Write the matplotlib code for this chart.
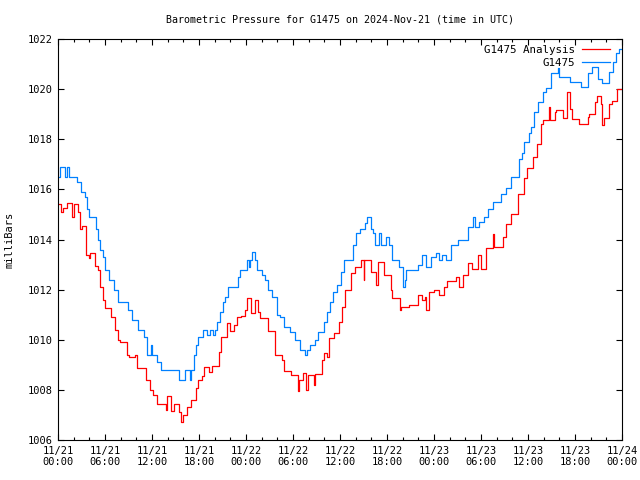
import numpy as np
import matplotlib
matplotlib.use("Agg")
import matplotlib.pyplot as plt
from matplotlib.ticker import MultipleLocator

# hours since 2024-11-21 00:00 UTC, pressure in mbar (step data)
g1475_hours = [0.0, 0.3, 0.95, 1.1, 1.4, 2.4, 2.9, 3.4, 3.7, 3.9, 4.8, 5.1, 5.4, 5.7,
               6.0, 6.5, 7.2, 7.6, 8.9, 9.5, 10.2, 11.0, 11.4, 11.9, 12.0, 12.7, 13.1,
               15.5, 16.2, 16.9, 17.0, 17.3, 17.6, 17.9, 18.5, 19.0, 19.4, 19.8, 20.1,
               20.3, 20.7, 21.1, 21.3, 21.7, 23.0, 23.2, 24.1, 24.4, 24.5, 24.8, 25.1,
               25.4, 26.0, 26.4, 26.8, 27.3, 27.9, 28.3, 28.9, 29.6, 30.3, 30.9, 31.5,
               31.8, 32.2, 32.8, 33.2, 33.9, 34.3, 34.7, 35.1, 35.6, 36.1, 36.5, 37.6,
               38.1, 38.5, 39.2, 39.4, 39.9, 40.2, 40.5, 41.0, 41.2, 41.9, 42.2, 42.6,
               43.5, 44.0, 44.3, 44.4, 45.9, 46.5, 47.0, 47.6, 48.2, 48.6, 49.0, 49.5,
               50.2, 51.1, 52.3, 53.0, 53.2, 53.8, 54.4, 54.9, 55.5, 56.5, 57.2, 57.8,
               58.9, 59.2, 59.5, 60.1, 60.4, 60.8, 61.3, 61.9, 62.3, 62.9, 63.8, 64.0,
               65.3, 66.8, 67.6, 68.2, 68.9, 69.5, 70.4, 70.8, 71.2, 71.6, 72.0]
g1475_mbar = [1016.5, 1016.9, 1016.5, 1016.9, 1016.5, 1016.3, 1015.9, 1015.7, 1015.2,
              1014.9, 1014.4, 1014.0, 1013.6, 1013.3, 1012.8, 1012.4, 1012.0, 1011.5,
              1011.2, 1010.8, 1010.4, 1010.1, 1009.4, 1009.8, 1009.4, 1009.1, 1008.8,
              1008.4, 1008.8, 1008.4, 1008.8, 1009.4, 1009.8, 1010.1, 1010.4, 1010.2,
              1010.4, 1010.2, 1010.4, 1010.7, 1011.1, 1011.5, 1011.7, 1012.1, 1012.5,
              1012.8, 1013.2, 1012.9, 1013.2, 1013.5, 1013.2, 1012.8, 1012.6, 1012.4,
              1012.0, 1011.7, 1011.0, 1010.9, 1010.5, 1010.3, 1010.0, 1009.6, 1009.4,
              1009.6, 1009.8, 1010.0, 1010.3, 1010.7, 1011.1, 1011.5, 1011.9, 1012.2,
              1012.7, 1013.2, 1013.8, 1014.25, 1014.4, 1014.65, 1014.9, 1014.4, 1014.25,
              1013.8, 1014.25, 1013.8, 1014.1, 1013.8, 1013.2, 1012.9, 1012.1, 1012.4,
              1012.8, 1013.0, 1013.4, 1012.9, 1013.3, 1013.45, 1013.2, 1013.4, 1013.2,
              1013.8, 1014.0, 1014.5, 1014.9, 1014.5, 1014.7, 1014.9, 1015.2, 1015.5,
              1015.8, 1016.05, 1016.5, 1017.2, 1017.46, 1017.9, 1018.25, 1018.5, 1019.1,
              1019.5, 1019.9, 1020.05, 1020.64, 1020.84, 1020.5, 1020.3, 1020.1, 1020.64,
              1020.9, 1020.4, 1020.24, 1020.7, 1021.1, 1021.44, 1021.6, 1021.6]

analysis_hours = [0.0, 0.4, 0.6, 1.1, 1.8, 2.1, 2.5, 2.8, 3.1, 3.6, 3.9, 4.1, 4.7, 5.1,
                  5.4, 5.8, 6.0, 6.8, 7.3, 7.7, 7.9, 8.8, 9.0, 9.8, 10.1, 11.2, 11.8,
                  12.1, 12.7, 13.8, 13.9, 14.4, 14.8, 15.5, 15.7, 15.9, 16.5, 17.0, 17.6,
                  17.9, 18.4, 18.7, 19.3, 19.7, 20.6, 20.8, 21.6, 21.9, 22.5, 22.9, 23.3,
                  23.9, 24.1, 24.6, 25.1, 25.5, 25.8, 26.8, 27.7, 28.6, 28.9, 29.7, 30.6,
                  30.8, 31.3, 31.7, 31.9, 32.7, 32.8, 33.7, 34.0, 34.4, 34.6, 35.2, 35.9,
                  36.3, 36.6, 37.4, 37.9, 38.7, 39.0, 39.1, 40.0, 40.6, 40.9, 41.6, 42.5,
                  42.7, 43.7, 43.8, 44.8, 45.9, 46.5, 46.8, 47.0, 47.4, 48.0, 48.7, 49.3,
                  49.7, 50.8, 51.2, 51.7, 52.3, 52.9, 53.6, 54.0, 54.6, 55.5, 55.6, 56.8,
                  57.2, 57.8, 58.7, 59.5, 59.9, 60.6, 61.2, 61.7, 61.9, 62.7, 62.8, 63.4,
                  63.6, 64.5, 65.0, 65.4, 65.6, 66.5, 67.6, 67.8, 68.5, 68.8, 69.3, 69.5,
                  69.7, 70.4, 70.7, 71.4, 72.0]
analysis_mbar = [1015.4, 1015.1, 1015.25, 1015.46, 1014.9, 1015.4, 1015.1, 1014.4,
                 1014.55, 1013.4, 1013.26, 1013.48, 1012.95, 1012.8, 1012.1, 1011.6,
                 1011.27, 1010.9, 1010.4, 1010.0, 1009.9, 1009.4, 1009.31, 1009.4,
                 1008.87, 1008.4, 1008.0, 1007.78, 1007.45, 1007.2, 1007.74, 1007.15,
                 1007.45, 1007.1, 1006.7, 1007.0, 1007.3, 1007.6, 1008.07, 1008.38,
                 1008.54, 1008.9, 1008.7, 1008.96, 1009.5, 1010.1, 1010.67, 1010.33,
                 1010.6, 1010.9, 1010.96, 1011.2, 1011.66, 1011.07, 1011.6, 1011.1,
                 1010.86, 1010.33, 1009.4, 1009.2, 1008.76, 1008.6, 1007.94, 1008.4,
                 1008.67, 1008.0, 1008.6, 1008.2, 1008.64, 1009.2, 1009.46, 1009.3,
                 1010.07, 1010.28, 1010.7, 1011.3, 1012.0, 1012.66, 1012.92, 1013.19,
                 1012.4, 1013.2, 1012.72, 1012.2, 1013.1, 1012.6, 1012.0, 1011.66,
                 1011.2, 1011.29, 1011.4, 1011.8, 1011.6, 1011.7, 1011.2, 1011.9,
                 1012.0, 1011.8, 1012.1, 1012.33, 1012.5, 1012.1, 1012.59, 1013.08,
                 1012.82, 1013.4, 1012.84, 1013.66, 1014.2, 1013.72, 1014.1, 1014.6,
                 1015.0, 1015.8, 1016.45, 1016.85, 1017.31, 1017.8, 1018.6, 1018.78,
                 1019.3, 1018.78, 1019.1, 1019.18, 1018.84, 1019.9, 1019.2, 1018.8,
                 1018.6, 1018.9, 1019.0, 1019.5, 1019.72, 1019.4, 1018.58, 1018.84,
                 1019.4, 1019.53, 1020.0, 1020.0]

tick_labels = ["11/21\n00:00", "11/21\n06:00", "11/21\n12:00", "11/21\n18:00",
               "11/22\n00:00", "11/22\n06:00", "11/22\n12:00", "11/22\n18:00",
               "11/23\n00:00", "11/23\n06:00", "11/23\n12:00", "11/23\n18:00",
               "11/24\n00:00"]

plt.rcParams['font.family'] = 'DejaVu Sans Mono'
plt.rcParams['font.size'] = 7.5

fig = plt.figure(figsize=(6.4, 4.8), dpi=100)
ax = fig.add_axes([58 / 640, 40 / 480, 564 / 640, 401 / 480])

ax.plot(analysis_hours, analysis_mbar, drawstyle='steps-post', color='#ff0000', lw=0.9)
ax.plot(g1475_hours, g1475_mbar, drawstyle='steps-post', color='#0080ff', lw=0.9)

ax.set_xlim(0, 72)
ax.set_ylim(1006, 1022)
ax.set_xticks(np.arange(0, 73, 6))
ax.set_xticklabels(tick_labels)
ax.xaxis.set_minor_locator(MultipleLocator(2))
ax.set_yticks(np.arange(1006, 1023, 2))
ax.tick_params(which='both', direction='in', top=True, right=True, width=0.8, pad=4)
ax.tick_params(which='major', length=4)
ax.tick_params(which='minor', length=2.5)
for s in ax.spines.values():
    s.set_linewidth(0.8)

ax.set_title("Barometric Pressure for G1475 on 2024-Nov-21 (time in UTC)", fontsize=7.2, pad=12)
ax.set_ylabel("milliBars", fontsize=7.5, labelpad=9)

# gnuplot-style key: right-aligned text followed by line sample
ax.text(0.917, 0.973, "G1475 Analysis", transform=ax.transAxes, ha='right', va='center', fontsize=7.8)
ax.plot([0.929, 0.979], [0.975, 0.975], transform=ax.transAxes, color='#ff0000', lw=0.9)
ax.text(0.917, 0.940, "G1475", transform=ax.transAxes, ha='right', va='center', fontsize=7.8)
ax.plot([0.929, 0.979], [0.942, 0.942], transform=ax.transAxes, color='#0080ff', lw=0.9)

fig.savefig("out.png", dpi=100)
